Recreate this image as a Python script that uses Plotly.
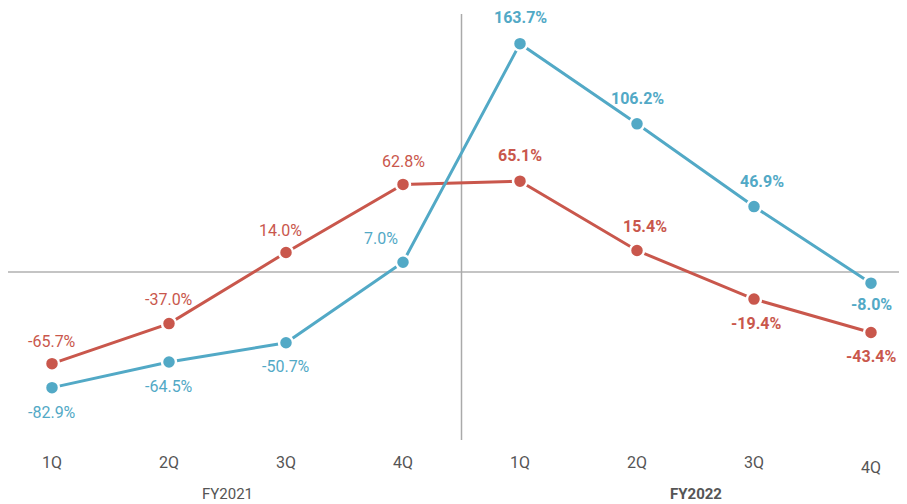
import plotly.graph_objects as go

quarters = ["1Q", "2Q", "3Q", "4Q", "1Q", "2Q", "3Q", "4Q"]
years = ["FY2021", "FY2022"]
red_values = [-65.7, -37.0, 14.0, 62.8, 65.1, 15.4, -19.4, -43.4]
blue_values = [-82.9, -64.5, -50.7, 7.0, 163.7, 106.2, 46.9, -8.0]

RED = "#c9574c"
BLUE = "#52a9c6"
OFF = 8  # page body margin
W, H = 907 - OFF, 504 - OFF
x0px, dx = 52 - OFF, 117.0
zero_px, ppu = 272 - OFF, 1.395

idx = list(range(len(quarters)))
xr = [-x0px / dx, (W - x0px) / dx]
yr = [-(H - zero_px) / ppu, zero_px / ppu]

fig = go.Figure()
for vals, col in [(red_values, RED), (blue_values, BLUE)]:
    fig.add_trace(go.Scatter(
        x=idx, y=vals, mode="lines+markers",
        line=dict(color=col, width=3),
        marker=dict(size=14, color=col, line=dict(color="white", width=2.5)),
        hoverinfo="skip", showlegend=False, cliponaxis=False))

# label offsets (px): (dx, dy) relative to the point
red_off = [(0, 22), (0, 24), (-6, 22), (0, 23), (0, 26), (8, 24), (2, -24), (0, -24)]
blue_off = [(0, -25), (0, -25), (0, -24), (-22, 24), (0, 26), (0, 25), (8, 25), (0, -21)]

ann = []
for vals, col, offs in [(red_values, RED, red_off), (blue_values, BLUE, blue_off)]:
    for i, v in enumerate(vals):
        bold = i >= 4
        ann.append(dict(
            x=i, y=v, xref="x", yref="y", showarrow=False,
            text=(f"<b>{v:.1f}%</b>" if bold else f"{v:.1f}%"),
            xshift=offs[i][0], yshift=offs[i][1],
            font=dict(family="Roboto", size=16, color=col)))

for i, q in enumerate(quarters):
    ann.append(dict(x=i, y=(H - (462 - OFF)) / H - (5 / H if i == 7 else 0),
                    xref="x", yref="paper", xanchor="center", yanchor="middle",
                    showarrow=False, text=q,
                    font=dict(family="Roboto", size=16, color="#555555")))
for k, yl in enumerate(years):
    ann.append(dict(x=1.5 + 4 * k, y=(H - (494 - OFF)) / H, xref="x", yref="paper",
                    xanchor="center", yanchor="middle",
                    showarrow=False, text=(f"<b>{yl}</b>" if k == 1 else yl),
                    font=dict(family="Roboto", size=15, color="#555555")))

shapes = [
    dict(type="line", xref="paper", yref="y", x0=0, x1=1, y0=0, y1=0,
         line=dict(color="#8a8a8a", width=1.2), layer="below"),
    dict(type="line", xref="x", yref="paper", x0=3.5, x1=3.5,
         y0=(H - (440 - OFF)) / H, y1=(H - (14 - OFF)) / H,
         line=dict(color="#aaaaaa", width=1.5), layer="below"),
]

fig.update_layout(
    width=W, height=H,
    margin=dict(l=0, r=0, t=0, b=0),
    paper_bgcolor="white", plot_bgcolor="white",
    xaxis=dict(range=xr, visible=False, fixedrange=True),
    yaxis=dict(range=yr, visible=False, fixedrange=True),
    annotations=ann, shapes=shapes,
)
fig.write_html("out.html")
